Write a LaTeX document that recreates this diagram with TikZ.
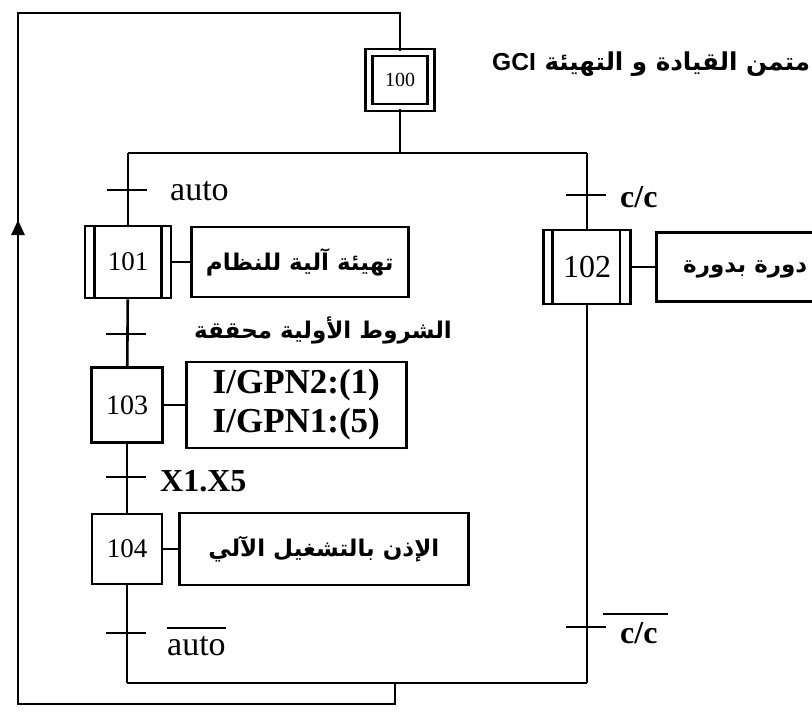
\documentclass[tikz,border=0pt]{standalone}
\usepackage{fontspec}
\setmainfont{Liberation Serif}
\newfontfamily\arabicfont[Script=Arabic]{DejaVu Sans}
\newfontfamily\headsans{Liberation Sans}
\TeXXeTstate=1
\usetikzlibrary{arrows.meta}
\tikzset{
  ln/.style={line width=2.6pt},
  stepbox/.style={draw, line width=2.6pt, minimum width=71pt, minimum height=72pt, inner sep=0pt, font=\fontsize{27}{30}\selectfont},
  macrostep/.style={stepbox, minimum width=86pt, minimum height=72pt},
  initstep/.style={draw, line width=2.4pt, double, double distance=4.6pt, minimum width=62pt, minimum height=55pt, inner sep=0pt, font=\fontsize{20}{22}\selectfont},
  actbox/.style={draw, line width=2.6pt, inner sep=0pt, anchor=west},
  artext/.style={font=\arabicfont\bfseries\fontsize{23}{28}\selectfont},
  lab/.style={anchor=west, inner sep=0pt, font=\fontsize{34}{38}\selectfont},
  blab/.style={anchor=west, inner sep=0pt, font=\bfseries\fontsize{32}{36}\selectfont},
  tickmark/.style={line width=2.6pt},
}
\begin{document}
\begin{tikzpicture}[x=1pt,y=-1pt]
\useasboundingbox (0,0) rectangle (812,713);
\clip (0,0) rectangle (812,713);
\fill[white] (0,0) rectangle (812,713);

% steps
\node[initstep] (s100) at (400,80) {100};
\node[macrostep] (s101) at (128,262) {101};
\node[macrostep, minimum width=87pt, minimum height=74pt, font=\fontsize{32}{36}\selectfont] (s102) at (587,267) {102};
\node[stepbox, minimum height=75pt, font=\fontsize{28}{30}\selectfont] (s103) at (127,405) {103};
\node[stepbox, minimum width=70pt, minimum height=70pt] (s104) at (127,549) {104};

% inner vertical lines of the macro steps
\draw[ln] ([xshift=11pt]s101.north west) -- ([xshift=11pt]s101.south west);
\draw[ln] ([xshift=-11pt]s101.north east) -- ([xshift=-11pt]s101.south east);
\draw[ln] ([xshift=10pt]s102.north west) -- ([xshift=10pt]s102.south west);
\draw[ln] ([xshift=-12pt]s102.north east) -- ([xshift=-12pt]s102.south east);

% header text
\node[anchor=west, inner sep=0pt] (hdr) at (492,64)
  {\fontsize{24.6}{30}\selectfont\arabicfont\bfseries\beginR متمن القيادة و التهيئة {\headsans\bfseries\beginL GCI\endL}\endR};

% actions
\node[actbox, artext, minimum width=217pt, minimum height=70pt] (a101) at (190,262) {\beginR تهيئة آلية للنظام\endR};
\node[actbox, minimum width=220pt, minimum height=86pt, align=center, font=\bfseries\fontsize{35}{39}\selectfont] (a103) at (185,405) {I/GPN2:(1)\\I/GPN1:(5)};
\node[actbox, artext, minimum width=289pt, minimum height=72pt] (a104) at (178,549) {\beginR الإذن بالتشغيل الآلي\endR};
\node[actbox, minimum width=200pt, minimum height=69pt] (a102) at (655,267) {};
\node[artext, anchor=west, inner sep=0pt] (t102) at (683,269) {\beginR دورة بدورة\endR};

\draw[ln] (s101.east) -- (a101.west);
\draw[ln] (s103.east) -- (a103.west);
\draw[ln] (s104.east) -- (a104.west);
\draw[ln] (s102.east) -- (a102.west);

% bus lines and loop coordinates
\coordinate (busT) at (400,153);
\coordinate (busTL) at (128,153);
\coordinate (busTR) at (587,153);
\coordinate (busB) at (395,683);
\coordinate (busBL) at (127,683);
\coordinate (busBR) at (587,683);
\coordinate (topL) at (18,13);
\coordinate (botL) at (18,704);
\coordinate (arw0) at (18,240);
\coordinate (arw1) at (18,220);

\draw[ln] (s100.south) -- (busT);
\draw[ln] (busTL) -- (busTR);
\draw[ln] (busBL) -- (busBR);
\draw[ln] (s100.north) |- (topL) -- (botL) -| (busB);
\draw[ln, -{Triangle[length=15pt,width=13pt]}] (arw0) -- (arw1);

% left branch
\draw[ln] (busTL) -- (s101);
\draw[ln] (s101) -- (s103);
\draw[ln] (s103) -- (s104);
\draw[ln] (s104) -- (busBL);
% right branch
\draw[ln] (busTR) -- (s102);
\draw[ln] (s102) -- (busBR);

% transitions
\coordinate (t1) at (128,190);
\coordinate (t2) at (127,334);
\coordinate (t3) at (127,477);
\coordinate (t4) at (127,633);
\coordinate (t5) at (587,195);
\coordinate (t6) at (587,627);
\foreach \t in {t1,t2,t3,t4,t5,t6}
  \draw[tickmark] ([xshift=-21pt]\t) -- ([xshift=19pt]\t);

\node[lab] (l1) at (170,191) {auto};
\node[artext, anchor=east, inner sep=0pt] (l2) at (452,330) {\beginR الشروط الأولية محققة\endR};
\node[blab] (l3) at (160,481) {X1.X5};
\node[lab] (l4) at (167,646) {auto};
\draw[ln] ([yshift=8pt]l4.north west) -- ([yshift=8pt]l4.north east);
\node[blab] (l5) at (620,197) {c/c};
\node[blab] (l6) at (620,633) {c/c};
\draw[ln] ([xshift=-17pt,yshift=8pt]l6.north west) -- ([xshift=10pt,yshift=8pt]l6.north east);
\end{tikzpicture}
\end{document}
